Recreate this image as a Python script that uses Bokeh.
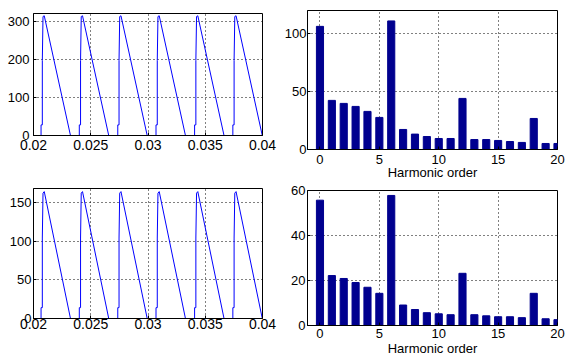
from bokeh.plotting import figure
from bokeh.layouts import row, column
from bokeh.models import FixedTicker, Range1d
from bokeh.embed import file_html
from bokeh.resources import INLINE

# ---- data: waveforms (time in s) ----
time_top = [0.02,
            0.02066, 0.02066, 0.02077, 0.02077, 0.02083, 0.02094, 0.02323,
            0.02400, 0.02400, 0.02411, 0.02411, 0.02417, 0.02428, 0.02657,
            0.02736, 0.02736, 0.02747, 0.02747, 0.02753, 0.02764, 0.02993,
            0.03070, 0.03070, 0.03081, 0.03081, 0.03087, 0.03098, 0.03327,
            0.03407, 0.03407, 0.03418, 0.03418, 0.03424, 0.03435, 0.03664,
            0.03741, 0.03741, 0.03752, 0.03752, 0.03758, 0.03769, 0.03998,
            0.04]
volt_top = [0,
            0, 28, 28, 198, 314, 316, 0,
            0, 28, 28, 198, 314, 316, 0,
            0, 28, 28, 198, 314, 316, 0,
            0, 28, 28, 198, 314, 316, 0,
            0, 28, 28, 198, 314, 316, 0,
            0, 28, 28, 198, 314, 316, 0,
            0]
time_bot = list(time_top)
volt_bot = [0,
            0, 14, 14, 104, 162, 164, 0,
            0, 14, 14, 104, 162, 164, 0,
            0, 14, 14, 104, 162, 164, 0,
            0, 14, 14, 104, 162, 164, 0,
            0, 14, 14, 104, 162, 164, 0,
            0, 14, 14, 104, 162, 164, 0,
            0]

# ---- data: harmonic spectra ----
harmonic = list(range(21))
spec_top = [106.3, 42.4, 39.8, 37.2, 32.9, 27.7, 111.0, 17.3, 13.3, 11.2, 9.5,
            9.5, 44.1, 8.6, 8.6, 7.8, 6.9, 6.1, 26.8, 5.2, 5.2]
spec_bot = [55.7, 22.2, 20.9, 19.1, 17.0, 14.3, 57.8, 9.1, 7.1, 5.7, 5.2,
            4.8, 23.2, 4.8, 4.3, 3.9, 3.9, 3.5, 14.3, 3.0, 2.6]

# ---- ticks / labels ----
time_ticks = [0.02, 0.025, 0.03, 0.035, 0.04]
time_tick_labels = ["0.02", "0.025", "0.03", "0.035", "0.04"]
harm_ticks = [0, 5, 10, 15, 20]
harm_label = "Harmonic order"
ytick_top_wave = [0, 100, 200, 300]
ytick_bot_wave = [0, 50, 100, 150]
ytick_top_spec = [0, 50, 100]
ytick_bot_spec = [0, 20, 40, 60]

FONT = "Liberation Sans"


def make_fig(w, h, xr, yr, xt, yt, bl, br, bt, bb, xfs, xstand, ystand):
    p = figure(width=w, height=h, x_range=Range1d(*xr), y_range=Range1d(*yr),
               output_backend="svg", toolbar_location=None,
               min_border_left=bl, min_border_right=br,
               min_border_top=bt, min_border_bottom=bb)
    p.background_fill_color = "white"
    p.border_fill_color = "white"
    p.outline_line_color = "black"
    p.outline_line_width = 1
    for ax, ticks in ((p.xaxis[0], xt), (p.yaxis[0], yt)):
        ax.ticker = FixedTicker(ticks=ticks)
        ax.major_tick_in = 3
        ax.major_tick_out = 0
        ax.minor_tick_in = 0
        ax.minor_tick_out = 0
        ax.axis_line_color = "black"
        ax.major_tick_line_color = "black"
        ax.major_label_text_font = FONT
        ax.major_label_text_color = "black"
    p.yaxis.major_label_text_font_size = "13px"
    p.yaxis.major_label_standoff = ystand
    p.xaxis.major_label_text_font_size = xfs
    p.xaxis.major_label_standoff = xstand
    p.grid.grid_line_color = "black"
    p.grid.grid_line_dash = "1 3"
    p.grid.grid_line_width = 1
    p.xgrid.ticker = FixedTicker(ticks=xt)
    p.ygrid.ticker = FixedTicker(ticks=yt)
    return p


def set_xlabel(p, standoff):
    p.xaxis.axis_label = harm_label
    p.xaxis.axis_label_text_font = FONT
    p.xaxis.axis_label_text_font_size = "13px"
    p.xaxis.axis_label_text_font_style = "normal"
    p.xaxis.axis_label_text_color = "black"
    p.xaxis.axis_label_standoff = standoff


# top-left: waveform  (frame 33..267 x 13..135)
tl = make_fig(281, 186, (0.02, 0.04), (0, 322), time_ticks, ytick_top_wave,
              33, 14, 13, 51, "14px", 4, 4)
tl.xaxis[0].major_label_overrides = dict(zip(time_ticks, time_tick_labels))
tl.line(time_top, volt_top, line_color="#0000FF", line_width=1)

# bottom-left: waveform  (frame 28..262 x 188..318)
bl = make_fig(281, 178, (0.02, 0.04), (0, 168), time_ticks, ytick_bot_wave,
              28, 19, 2, 46, "14px", 0, 2)
bl.xaxis[0].major_label_overrides = dict(zip(time_ticks, time_tick_labels))
bl.line(time_bot, volt_bot, line_color="#0000FF", line_width=1)

# top-right: spectrum  (frame 304..557 x 10..149)
tr = make_fig(295, 182, (-1.05, 20), (0, 120), harm_ticks, ytick_top_spec,
              23, 19, 10, 33, "13px", 5, 1)
tr.vbar(x=harmonic, top=spec_top, width=0.6, bottom=0,
        fill_color="#00008F", line_color="#00008F")
set_xlabel(tr, -2)

# bottom-right: spectrum  (frame 304..557 x 190..326)
br = make_fig(295, 176, (-1.05, 20), (0, 60), harm_ticks, ytick_bot_spec,
              23, 19, 8, 32, "13px", 3, 2)
br.vbar(x=harmonic, top=spec_bot, width=0.6, bottom=0,
        fill_color="#00008F", line_color="#00008F")
set_xlabel(br, 0)

layout = row(column(tl, bl), column(tr, br))

open("out.html", "w").write(file_html(layout, INLINE))
